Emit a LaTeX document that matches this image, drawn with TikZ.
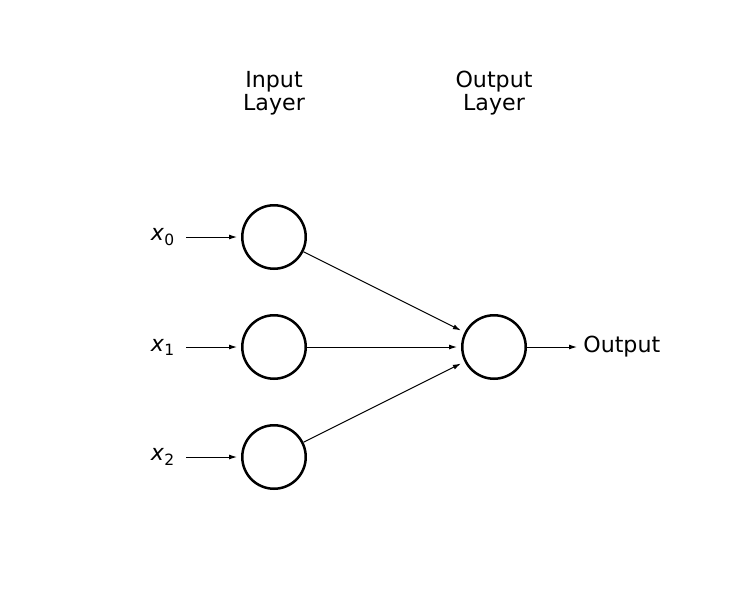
\documentclass[tikz,border=0pt]{standalone}
\usepackage{fontspec}
\setmainfont{DejaVu Sans}
\usetikzlibrary{arrows.meta}
\begin{document}
\begin{tikzpicture}[x=0.02cm, y=-0.02cm]

    \tikzstyle{neuron}=[circle, draw=black, line width=0.05cm, minimum size=1.27cm, inner sep=0pt]
    \tikzstyle{label}=[font=\fontsize{12.6}{13.1}\selectfont, align=center, inner sep=0pt]
    \tikzstyle{conn}=[line width=0.02cm, -{Latex[length=0.16cm, width=0.1cm]}, shorten >=0.08cm]

    \useasboundingbox (0,0) rectangle (730,613);

    \node[label] (inhead)  at (274,93) {Input\\Layer};
    \node[label] (outhead) at (494,93) {Output\\Layer};

    \node[neuron] (in0) at (274,237) {};
    \node[neuron] (in1) at (274,347) {};
    \node[neuron] (in2) at (274,457) {};
    \node[neuron] (out) at (494,347) {};

    \node[label] (x0) at (163,237) {\textit{x}\textsubscript{0}};
    \node[label] (x1) at (163,347) {\textit{x}\textsubscript{1}};
    \node[label] (x2) at (163,457) {\textit{x}\textsubscript{2}};
    \node[label, anchor=west] (outtext) at (583,347) {Output};

    \coordinate (s0) at (186,237);
    \coordinate (s1) at (186,347);
    \coordinate (s2) at (186,457);
    \coordinate (e)  at (581,347);

    \draw[conn] (s0) -- (in0);
    \draw[conn] (s1) -- (in1);
    \draw[conn] (s2) -- (in2);

    \draw[conn] (in0) -- (out);
    \draw[conn] (in1) -- (out);
    \draw[conn] (in2) -- (out);

    \draw[conn] (out) -- (e);
\end{tikzpicture}
\end{document}
